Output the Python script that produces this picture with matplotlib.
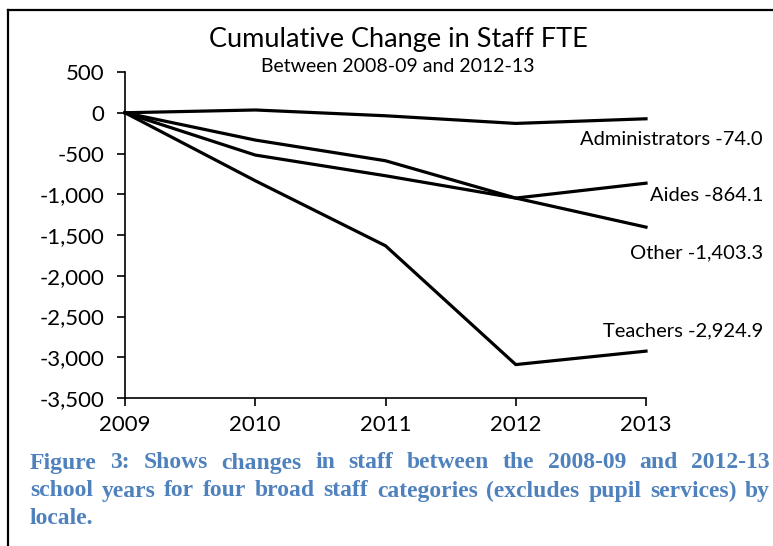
import matplotlib
matplotlib.use("Agg")
import matplotlib.pyplot as plt
from matplotlib.lines import Line2D
from matplotlib.transforms import blended_transform_factory

# data (cumulative change in FTE vs 2008-09)
years = [2009, 2010, 2011, 2012, 2013]
administrators = [0, 34, -37, -131, -74.0]
aides = [0, -519, -773, -1047, -864.1]
other = [0, -335, -589, -1047, -1403.3]
teachers = [0, -834, -1632, -3090, -2924.9]
series_labels = ["Administrators -74.0", "Aides -864.1", "Other -1,403.3", "Teachers -2,924.9"]
label_y = [-325, -1010, -1720, -2680]
yticks = list(range(500, -3501, -500))

caption_lines = [
    "Figure 3: Shows changes in staff between the 2008-09 and 2012-13",
    "school years for four broad staff categories (excludes pupil services) by",
    "locale.",
]

W, H = 773, 546
fig = plt.figure(figsize=(W / 100, H / 100), dpi=100)
ax = fig.add_axes([125 / W, 1 - 398 / H, (646 - 125) / W, (398 - 72) / H])

font = "Lato"
for s in [administrators, aides, other, teachers]:
    ax.plot(years, s, color="black", lw=2.3, solid_joinstyle="round", clip_on=False)

ax.set_xlim(2009, 2013)
ax.set_ylim(-3500, 500)
ax.set_xticks(years)
ax.set_xticklabels([str(y) for y in years], fontname=font, fontsize=16)
ax.set_yticks(yticks)
ax.set_yticklabels([f"{v:,}" for v in yticks], fontname=font, fontsize=16)
ax.tick_params(axis="both", direction="out", length=6, width=1.2, color="black")
ax.tick_params(axis="x", pad=6)
ax.tick_params(axis="y", pad=9)
for side in ["top", "right"]:
    ax.spines[side].set_visible(False)
for side in ["left", "bottom"]:
    ax.spines[side].set_linewidth(1.2)

# end labels, placed right of the last point
lab_tr = blended_transform_factory(fig.transFigure, ax.transData)
for lab, ly in zip(series_labels, label_y):
    ax.text(763 / W, ly, lab, transform=lab_tr, ha="right", va="center",
            fontname=font, fontsize=14.5, clip_on=False)

fig.text(398 / W, 1 - 40 / H, "Cumulative Change in Staff FTE", ha="center", va="center",
         fontname=font, fontsize=19.5)
fig.text(398 / W, 1 - 67 / H, "Between 2008-09 and 2012-13", ha="center", va="center",
         fontname=font, fontsize=14)

# frame lines at top and left
fig.add_artist(Line2D([8 / W, 8 / W], [0, 1 - 10 / H], transform=fig.transFigure, color="black", lw=1.6))
fig.add_artist(Line2D([8 / W, 1], [1 - 10 / H, 1 - 10 / H], transform=fig.transFigure, color="black", lw=1.6))

# justified caption
blue = "#4F81BD"
fig.canvas.draw()
renderer = fig.canvas.get_renderer()
x0, x1 = 30, 770
line_y = [463, 491, 518]
for i, (txt, yy) in enumerate(zip(caption_lines, line_y)):
    words = txt.split(" ")
    objs = [fig.text(0, 1 - yy / H, w, ha="left", va="center", color=blue, fontweight="bold",
                     fontname="Liberation Serif", fontsize=17) for w in words]
    widths = [o.get_window_extent(renderer).width for o in objs]
    if i < len(caption_lines) - 1 and len(words) > 1:
        gap = (x1 - x0 - sum(widths)) / (len(words) - 1)
    else:
        gap = 5
    x = x0
    for o, w in zip(objs, widths):
        o.set_x(x / W)
        x += w + gap

fig.savefig("out.png", dpi=100)
